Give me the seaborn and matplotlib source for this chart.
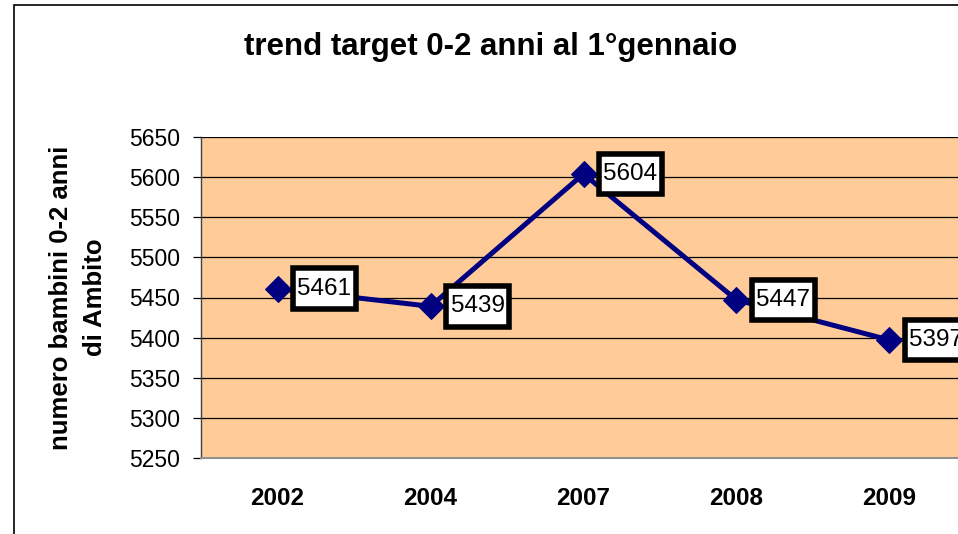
import matplotlib
matplotlib.use("Agg")
import matplotlib.pyplot as plt
import seaborn as sns
import pandas as pd
from matplotlib.patches import Rectangle
from matplotlib.path import Path

years = ["2002", "2004", "2007", "2008", "2009"]
values = [5461, 5439, 5604, 5447, 5397]
y_ticks = [5250, 5300, 5350, 5400, 5450, 5500, 5550, 5600, 5650]
title = "trend target 0-2 anni al 1°gennaio"
ylabel = "numero bambini 0-2 anni\ndi Ambito"

sns.set_theme(style="white")
plt.rcParams['font.family'] = ['Liberation Sans', 'DejaVu Sans']
plt.rcParams.update({"text.color": "black", "axes.labelcolor": "black",
                     "xtick.color": "black", "ytick.color": "black"})

W, H = 958, 534
fig = plt.figure(figsize=(W / 100, H / 100), dpi=100)
fig.patch.set_facecolor("white")

# outer chart border
fig.patches.append(Rectangle((14 / W, -0.1), 1.2, 1 - 5 / H + 0.1, transform=fig.transFigure,
                             fill=False, edgecolor="black", linewidth=1.2, zorder=0))

left, right = 201 / W, 966 / W
top, bottom = 1 - 137 / H, 1 - 458 / H
ax = fig.add_axes([left, bottom, right - left, top - bottom])
ax.set_facecolor("#FFCC99")

df = pd.DataFrame({"anno": years, "valore": values})
sns.lineplot(data=df, x="anno", y="valore", ax=ax, color="#000080", linewidth=3.6,
             marker="D", markersize=13, markeredgecolor="#000080", zorder=3)

ax.set_ylim(5250, 5650)
ax.set_xlim(-0.5, len(years) - 0.5)
ax.set_yticks(y_ticks)
ax.yaxis.grid(True, color="black", linewidth=0.9)
ax.set_axisbelow(True)
ax.tick_params(axis="y", which="both", left=True, length=6, width=0.9, color="black",
               labelsize=16.5, pad=9, direction="out")
ax.tick_params(axis="x", bottom=False, labelsize=17.5, pad=15)
for lab in ax.get_xticklabels():
    lab.set_fontweight("bold")
ax.set_xlabel("")
ax.set_ylabel(ylabel, fontsize=18.5, fontweight="bold", labelpad=16, linespacing=1.5)

for side in ["top", "right"]:
    ax.spines[side].set_visible(False)
ax.spines["left"].set_color("#404040")
ax.spines["left"].set_linewidth(1.0)
ax.spines["bottom"].set_color("#909090")
ax.spines["bottom"].set_linewidth(1.5)


def label_box(x0, y0, width, height, mutation_size):
    px = 0.2 * mutation_size
    py = 0.38 * mutation_size
    x1, y1 = x0 + width + px, y0 + height + py
    x0, y0 = x0 - px, y0 - py
    return Path([(x0, y0), (x1, y0), (x1, y1), (x0, y1), (x0, y0)], closed=True)


for i, v in enumerate(values):
    ax.annotate(str(v), xy=(i, v), xytext=(20, 0), textcoords="offset pixels",
                ha="left", va="center", fontsize=17.5, color="black", zorder=5,
                bbox=dict(boxstyle=label_box, facecolor="white",
                          edgecolor="black", linewidth=4))

fig.text(491 / W, 1 - 47 / H, title, ha="center", va="center", fontsize=22.5,
         fontweight="bold")

fig.savefig("out.png", dpi=100)
